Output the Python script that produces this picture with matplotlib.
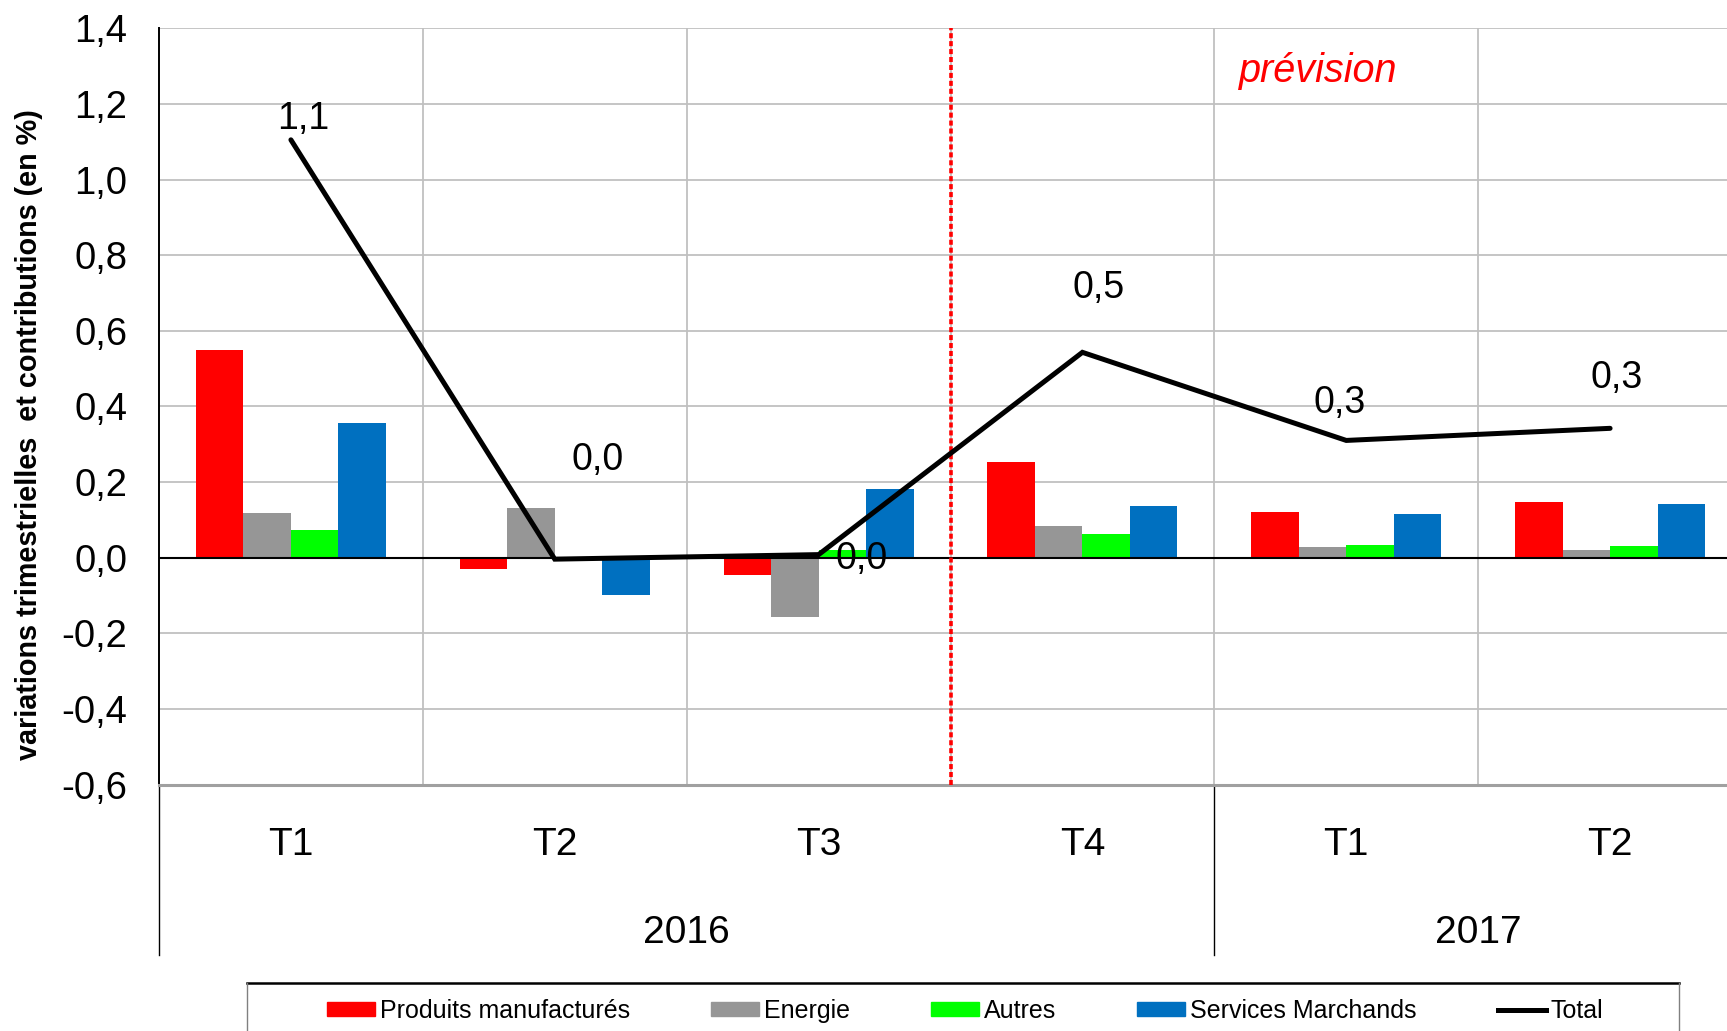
import matplotlib
matplotlib.use('Agg')
import matplotlib.pyplot as plt
from matplotlib.lines import Line2D
from matplotlib.patches import Patch
from matplotlib.ticker import FuncFormatter, MultipleLocator, FixedLocator

plt.rcParams['font.family'] = ['Liberation Sans', 'DejaVu Sans']

# données
quarters = ['T1', 'T2', 'T3', 'T4', 'T1', 'T2']
years = ['2016', '2017']
year_spans = [(0, 3), (4, 5)]

series_names = ['Produits manufacturés', 'Energie', 'Autres', 'Services Marchands']
manuf = [0.549, -0.031, -0.047, 0.252, 0.122, 0.146]
energie = [0.118, 0.131, -0.158, 0.083, 0.029, 0.020]
autres = [0.074, 0.0, 0.020, 0.063, 0.034, 0.031]
services = [0.357, -0.100, 0.181, 0.136, 0.116, 0.142]
total = [1.105, -0.004, 0.008, 0.543, 0.310, 0.342]

colors = ['#FF0000', '#969696', '#00FF00', '#0070C0']

# décalage des étiquettes de valeur par rapport au point (placement manuel)
label_dx = [0.045, 0.164, 0.162, 0.06, -0.026, 0.026]
label_dy = [0.055, 0.262, -0.012, 0.17, 0.1, 0.132]


def fr(v, pos=None):
    return '{:.1f}'.format(round(v, 1) + 0.0).replace('.', ',')


fig = plt.figure(figsize=(17.27, 10.31), dpi=100)
ax = fig.add_axes([159 / 1727, 1 - 784.5 / 1031, 1583 / 1727, 756.2 / 1031])

x = list(range(len(quarters)))
w = 0.18
for k, (vals, col) in enumerate(zip([manuf, energie, autres, services], colors)):
    ax.bar([xi + (k - 1.5) * w for xi in x], vals, width=w, color=col,
           zorder=2, label=series_names[k])

ax.axhline(0, color='black', lw=1.5, zorder=3)
ax.plot(x, total, color='black', lw=3.6, solid_capstyle='round',
        solid_joinstyle='miter', zorder=5)

for i, v in enumerate(total):
    ax.text(x[i] + label_dx[i], v + label_dy[i], fr(v), fontsize=27,
            ha='center', va='center', zorder=6)

ax.axvline(2.5, color='#FF0000', lw=2.6, linestyle=(0, (1.4, 0.8)), zorder=4)
ax.text(3.892, 1.259, 'prévision', color='#FF0000', fontsize=28.5,
        style='italic', ha='center', va='baseline')

ax.set_xlim(-0.5, 5.5)
ax.set_ylim(-0.6, 1.4)
ax.yaxis.set_major_locator(MultipleLocator(0.2))
ax.yaxis.set_major_formatter(FuncFormatter(fr))
ax.tick_params(axis='y', length=0, labelsize=27.5, pad=23)
ax.set_xticks([])
ax.xaxis.set_minor_locator(FixedLocator([0.5, 1.5, 2.5, 3.5, 4.5]))
ax.tick_params(axis='x', which='minor', length=0)
ax.grid(axis='y', color='#C0C0C0', lw=1.3)
ax.grid(axis='x', which='minor', color='#C0C0C0', lw=1.3)
ax.set_axisbelow(True)

for s in ['top', 'right']:
    ax.spines[s].set_visible(False)
ax.spines['left'].set_color('black')
ax.spines['left'].set_linewidth(1.4)
ax.spines['bottom'].set_color('#A0A0A0')
ax.spines['bottom'].set_linewidth(2.2)

# axe des catégories à deux niveaux
tr = ax.get_xaxis_transform()
for i, q in enumerate(quarters):
    ax.text(x[i], -0.0805, q, fontsize=28, ha='center', va='center', transform=tr)
for yr, (a, b) in zip(years, year_spans):
    ax.text((a + b) / 2, -0.196, yr, fontsize=28, ha='center', va='center', transform=tr)
for xs in [-0.5, 3.5]:
    ax.plot([xs, xs], [0, -0.2255], color='black', lw=1, transform=tr, clip_on=False)

fig.text(28.6 / 1727, 1 - 435 / 1031, 'variations trimestrielles  et contributions (en %)',
         rotation=90, fontsize=20.7, fontweight='bold', ha='center', va='center')

# légende
handles = [Patch(color=c) for c in colors] + [Line2D([], [], color='black', lw=3.6)]
labels = series_names + ['Total']
fig.legend(handles, labels, loc='center left', bbox_to_anchor=(326.7 / 1727, 1 - 1011 / 1031),
           ncol=5, frameon=False, fontsize=18, borderpad=0, borderaxespad=0,
           handlelength=1.92, handleheight=0.52, handletextpad=0.2, columnspacing=3.24)
ytop = 1 - 982.5 / 1031
fig.add_artist(Line2D([246.7 / 1727, 1678.5 / 1727], [ytop, ytop], color='black', lw=1.8))
for xs in [246.7, 1678.5]:
    fig.add_artist(Line2D([xs / 1727, xs / 1727], [ytop, 0], color='#808080', lw=1))

fig.savefig('out.png', dpi=100)
